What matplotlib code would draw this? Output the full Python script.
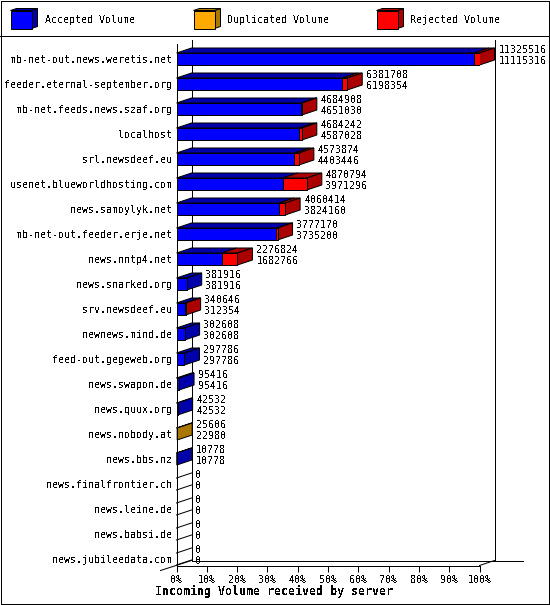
import numpy as np
import matplotlib
matplotlib.use("Agg")
import matplotlib.pyplot as plt
from matplotlib.patches import Polygon

plt.rcParams['font.family'] = 'DejaVu Sans Mono'
plt.rcParams['font.size'] = 7.2
plt.rcParams['text.antialiased'] = False

servers = ["mb-net-out.news.weretis.net", "feeder.eternal-september.org", "mb-net.feeds.news.szaf.org",
           "localhost", "srl.newsdeef.eu", "usenet.blueworldhosting.com", "news.samoylyk.net",
           "mb-net-out.feeder.erje.net", "news.nntp4.net", "news.snarked.org", "srv.newsdeef.eu",
           "newnews.mind.de", "feed-out.gegeweb.org", "news.swapon.de", "news.quux.org",
           "news.nobody.at", "news.bbs.nz", "news.finalfrontier.ch", "news.leine.de",
           "news.babsi.de", "news.jubileedata.com"]
accepted = [11115316, 6198354, 4651030, 4587028, 4403446, 3971296, 3824160, 3735200, 1682766,
            381916, 312354, 302608, 297786, 95416, 42532, 0, 10778, 0, 0, 0, 0]
duplicated = [0, 0, 0, 0, 0, 0, 0, 0, 0, 0, 0, 0, 0, 0, 0, 25606, 0, 0, 0, 0, 0]
rejected = [210200, 183354, 33878, 97214, 170428, 899498, 236254, 41970, 594058,
            0, 28292, 0, 0, 0, 0, 0, 0, 0, 0, 0, 0]
top_labels = [11325516, 6381708, 4684908, 4684242, 4573874, 4870794, 4060414, 3777170, 2276824,
              381916, 340646, 302608, 297786, 95416, 42532, 25606, 10778, 0, 0, 0, 0]
bottom_labels = [11115316, 6198354, 4651030, 4587028, 4403446, 3971296, 3824160, 3735200, 1682766,
                 381916, 312354, 302608, 297786, 95416, 42532, 22980, 10778, 0, 0, 0, 0]
legend_names = ["Accepted Volume", "Duplicated Volume", "Rejected Volume"]

W, H = 550, 605
FRONT = ["#0000ff", "#ffaa00", "#ff0000"]
SHADE = ["#0000aa", "#aa7700", "#aa0000"]
LW = 0.72

fig = plt.figure(figsize=(W / 100, H / 100), dpi=100)

# page furniture in pixel coordinates
bg = fig.add_axes([0, 0, 1, 1])
bg.set_xlim(0, W)
bg.set_ylim(H, 0)
bg.axis("off")
bg.plot([0.5, 548.5, 548.5, 0.5, 0.5], [0.5, 0.5, 603.5, 603.5, 0.5], color="k", lw=LW, clip_on=False)
bg.plot([0, 548], [35.5, 35.5], color="k", lw=LW)

for x0, tx, name, fc, sc in zip([10.5, 193.5, 376.5], [45, 227, 410], legend_names, FRONT, SHADE):
    bg.add_patch(Polygon([[x0 + 21, 10.5], [x0 + 27, 8.5], [x0 + 27, 26.5], [x0 + 21, 28.5]], fc=sc, ec="k", lw=LW))
    bg.add_patch(Polygon([[x0, 10.5], [x0 + 6, 8.5], [x0 + 27, 8.5], [x0 + 21, 10.5]], fc=sc, ec="k", lw=LW))
    bg.add_patch(Polygon([[x0, 10.5], [x0 + 21, 10.5], [x0 + 21, 28.5], [x0, 28.5]], fc=fc, ec="k", lw=LW))
    bg.text(tx, 20, name, va="center", ha="left")

bg.text(274, 591.5, "Incoming Volume received by server", ha="center", va="center", fontweight="bold", fontsize=8.4)

# front plane of the chart: 0-100% across, one row per server
left, right, top, bottom = 176.5, 479.5, 44.5, 565.5
ax = fig.add_axes([left / W, 1 - bottom / H, (right - left) / W, (bottom - top) / H])
ax.patch.set_alpha(0)
px_x = 100 / (right - left)
px_y = 1 / 25
ax.set_xlim(0, 100)
ax.set_ylim((bottom - 59) * px_y, (top - 59) * px_y)
for s in ax.spines.values():
    s.set_visible(False)

dx = 15 * px_x
dy = 5 * px_y
h = 0.48
full = top_labels[0]
y_pos = np.arange(len(servers))
wall_top = (40.5 - 59) * px_y
floor = ax.get_ylim()[0]

# walls and floor
ax.plot([0, 0], [floor, ax.get_ylim()[1]], color="k", lw=LW, clip_on=False, zorder=1)
ax.plot([dx, dx], [floor - dy, wall_top], color="k", lw=LW, clip_on=False, zorder=1)
ax.plot([100 + dx, 100 + dx], [floor - dy, wall_top], color="k", lw=LW, clip_on=False, zorder=1)
ax.plot([dx, 100 + dx + 28 * px_x], [floor - dy, floor - dy], color="k", lw=LW, clip_on=False, zorder=1)
ax.plot([0, 100], [floor, floor], color="k", lw=LW, clip_on=False, zorder=1)
ax.plot([100, 100 + dx], [floor, floor - dy], color="k", lw=LW, clip_on=False, zorder=1)
ax.plot([-16 * px_x, dx], [floor + dy, floor - dy], color="k", lw=LW, clip_on=False, zorder=1)

for i, y in enumerate(y_pos):
    segs = [accepted[i], duplicated[i], rejected[i]]
    y1 = y - h / 2
    y2 = y + h / 2
    start = 0.0
    if sum(segs) == 0:
        for yy in (y1, y2):
            ax.plot([0, dx], [yy, yy - dy], color="k", lw=LW, clip_on=False, zorder=2)
    last_col = 0
    for k, v in enumerate(segs):
        if v == 0:
            continue
        w = v / full * 100
        ax.barh(y, w, height=h, left=start, color=FRONT[k], edgecolor="k", linewidth=LW, zorder=4)
        ax.add_patch(Polygon([[start, y1], [start + dx, y1 - dy], [start + w + dx, y1 - dy], [start + w, y1]],
                             fc=SHADE[k], ec="k", lw=LW, zorder=3, clip_on=False))
        start += w
        last_col = k
    if start > 0:
        ax.add_patch(Polygon([[start, y1], [start + dx, y1 - dy], [start + dx, y2 - dy], [start, y2]],
                             fc=SHADE[last_col], ec="k", lw=LW, zorder=3, clip_on=False))
    lx = start + dx + 4 * px_x
    ax.text(lx, y - 9 * px_y, str(top_labels[i]), va="center", ha="left", zorder=5)
    ax.text(lx, y + 2 * px_y, str(bottom_labels[i]), va="center", ha="left", zorder=5)

ax.set_yticks(y_pos)
ax.set_yticklabels(servers)
ax.set_xticks(np.arange(0, 101, 10))
ax.set_xticklabels([f"{t}%" for t in range(0, 101, 10)])
ax.tick_params(axis="y", length=0, pad=2.9)
ax.tick_params(axis="x", length=4, width=LW, pad=2.5)

fig.savefig("out.png", dpi=100)
